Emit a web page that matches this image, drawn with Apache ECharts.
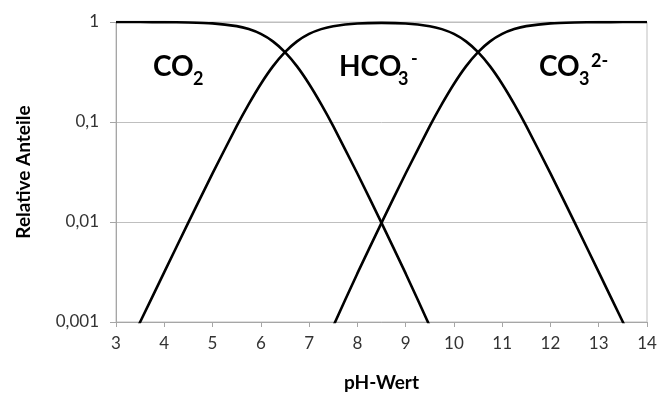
<!DOCTYPE html>
<html>
<head>
<meta charset="utf-8">
<script src="https://cdn.jsdelivr.net/npm/echarts@6/dist/echarts.min.js"></script>
<style>
html,body{margin:0;padding:0;background:#fff;}
#chart{width:665px;height:416px;}
</style>
</head>
<body>
<div id="chart"></div>
<script>
// pH values (x positions of the sampled points)
var pH = [3, 3.5, 4, 4.5, 5, 5.5, 5.75, 6, 6.25, 6.5, 6.75, 7, 7.25, 7.5, 8, 8.5, 9, 9.5, 9.75, 10,
          10.25, 10.5, 10.75, 11, 11.25, 11.5, 12, 12.5, 13, 13.5, 14];
// relative fractions
var co2 = [0.9997, 0.999, 0.9969, 0.9901, 0.9694, 0.9091, 0.849, 0.7598, 0.6401, 0.5, 0.3599, 0.2402, 0.1509, 0.0908, 0.03056, 0.0098, 0.00306, 0.000908, 0.000477, 0.00024,
           null, null, null, null, null, null, null, null, null, null, null];
var hco3 = [0.000316, 0.000999, 0.00315, 0.0099, 0.03065, 0.0909, 0.151, 0.2403, 0.3599, 0.5, 0.64, 0.7596, 0.8486, 0.9083, 0.9664, 0.9804, 0.9664, 0.9083, 0.8486, 0.7596,
            0.64, 0.5, 0.3599, 0.2403, 0.151, 0.0909, 0.03065, 0.0099, 0.00315, 0.000999, 0.000316];
var co3 = [null, null, null, null, null, null, null, null, null, null, 0.000114, 0.00024, 0.000477, 0.000908, 0.00306, 0.0098, 0.03056, 0.0908, 0.1509, 0.2402,
           0.3599, 0.5, 0.6401, 0.7598, 0.849, 0.9091, 0.9694, 0.9901, 0.9969, 0.999, 0.9997];
var yTicks = {1: '1', 0.1: '0,1', 0.01: '0,01', 0.001: '0,001'};

function pairs(vals) {
  var out = [];
  for (var i = 0; i < pH.length; i++) out.push([pH[i], vals[i]]);
  return out;
}

var FONT = 'Lato';
var chart = echarts.init(document.getElementById('chart'), null, {renderer: 'canvas'});

function lineSeries(name, vals) {
  return {
    name: name, type: 'line', data: pairs(vals), showSymbol: false, smooth: 0.2,
    connectNulls: false, clip: true,
    lineStyle: {color: '#000', width: 2.6}, emphasis: {disabled: true}
  };
}

var BIG = 'bold 28px Lato', SMALL = 'bold 18px Lato';
var option = {
  animation: false,
  backgroundColor: '#fff',
  textStyle: {fontFamily: FONT},
  grid: {left: 116, right: 18, top: 22, bottom: 94, show: true, borderColor: '#bfbfbf', borderWidth: 1},
  xAxis: {
    type: 'value', min: 3, max: 14, interval: 1,
    name: 'pH-Wert', nameLocation: 'middle', nameGap: 51,
    nameTextStyle: {fontFamily: FONT, fontSize: 19, fontWeight: 'bold', color: '#000'},
    axisLine: {show: true, lineStyle: {color: '#a6a6a6', width: 1}},
    axisTick: {show: true, length: 5, lineStyle: {color: '#a6a6a6'}},
    axisLabel: {fontFamily: FONT, fontSize: 17, color: '#333', margin: 13},
    splitLine: {show: false}
  },
  yAxis: {
    type: 'log', logBase: 10, min: 0.001, max: 1,
    name: 'Relative Anteile', nameLocation: 'middle', nameGap: 83,
    nameTextStyle: {fontFamily: FONT, fontSize: 19, fontWeight: 'bold', color: '#000'},
    axisLine: {show: true, lineStyle: {color: '#a6a6a6', width: 1}},
    axisTick: {show: true, length: 6, lineStyle: {color: '#a6a6a6'}},
    axisLabel: {fontFamily: FONT, fontSize: 17, color: '#333', margin: 17,
      formatter: function (v) { var k = +v.toPrecision(3); return yTicks[k] !== undefined ? yTicks[k] : ''; }},
    splitLine: {show: true, lineStyle: {color: '#bfbfbf', width: 1}}
  },
  series: [lineSeries('CO2', co2), lineSeries('HCO3-', hco3), lineSeries('CO3 2-', co3)],
  graphic: [
    {type: 'text', x: 153, y: 53, style: {text: 'CO', font: BIG, fill: '#000'}},
    {type: 'text', x: 193, y: 70, style: {text: '2', font: SMALL, fill: '#000'}},
    {type: 'text', x: 339, y: 53, style: {text: 'HCO', font: BIG, fill: '#000'}},
    {type: 'text', x: 398, y: 70, style: {text: '3', font: SMALL, fill: '#000'}},
    {type: 'text', x: 411, y: 50, style: {text: '-', font: SMALL, fill: '#000'}},
    {type: 'text', x: 539, y: 53, style: {text: 'CO', font: BIG, fill: '#000'}},
    {type: 'text', x: 579, y: 70, style: {text: '3', font: SMALL, fill: '#000'}},
    {type: 'text', x: 591, y: 52, style: {text: '2-', font: SMALL, fill: '#000'}}
  ]
};
chart.setOption(option);
</script>
</body>
</html>
